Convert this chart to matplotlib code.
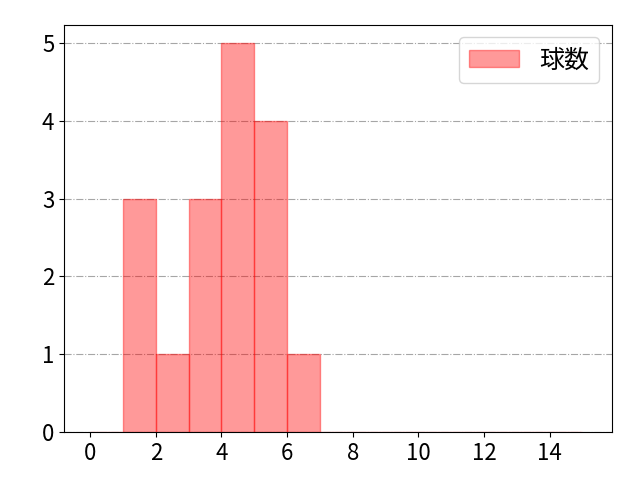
import numpy as np
import matplotlib
matplotlib.use("Agg")
import matplotlib.pyplot as plt

plt.rcParams['font.family'] = ['Noto Sans CJK JP', 'DejaVu Sans']

# pitch counts per bin (bin left edges 0..15)
bin_edges = list(range(0, 16))
counts = [0, 3, 1, 3, 5, 4, 1, 0, 0, 0, 0, 0, 0, 0, 0]
label = "球数"

fig, ax = plt.subplots(figsize=(6.4, 4.8), dpi=100)
centers = np.array(bin_edges[:-1]) + 0.5
ax.hist(centers, bins=bin_edges, weights=counts, color="red", alpha=0.4,
        edgecolor="red", label=label)
ax.set_xlim(-0.8, 15.9)
ax.set_ylim(0, 5.23)
ax.set_xticks(range(0, 15, 2))
ax.set_yticks(range(0, 6))
ax.tick_params(labelsize=16)
ax.grid(axis="y", linestyle="-.", color="gray", alpha=0.7)
ax.set_axisbelow(True)
ax.legend(fontsize=18, loc="upper right")
fig.subplots_adjust(left=0.1, right=0.956, top=0.948, bottom=0.1)
fig.savefig("out.png")
